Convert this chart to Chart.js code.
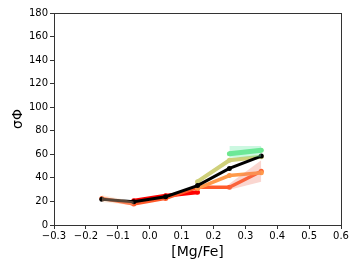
<!DOCTYPE html>
<html>
<head>
<meta charset="utf-8">
<script src="https://cdn.jsdelivr.net/npm/chart.js@4.4.1/dist/chart.umd.min.js"></script>
<style>
  body { margin: 0; background: #fff; }
  #wrap { width: 359px; height: 269px; }
</style>
</head>
<body>
<div id="wrap"><canvas id="sigmaChart" width="359" height="269"></canvas></div>
<script>
// -- DATA
const xAll = [-0.15, -0.05, 0.05, 0.15, 0.25, 0.35];
const blackVals = [21.8, 19.8, 24.0, 33.5, 48.0, 58.5];
const redX = [-0.05, 0.05, 0.15];
const redVals = [20.6, 24.8, 27.8];
const orangeRedVals = [22.6, 17.8, 22.6, 32.0, 32.0, 45.6];
const lightOrangeX = [0.15, 0.25, 0.35];
const lightOrangeVals = [31.0, 42.0, 44.4];
const khakiX = [0.15, 0.25, 0.35];
const khakiVals = [36.8, 55.0, 58.0];
const greenX = [0.25, 0.35];
const greenVals = [60.5, 63.5];
// shaded bands
const greenBandLow = [57.0, 58.0];
const greenBandHigh = [67.0, 67.0];
const pinkBandX = [0.25, 0.35];
const pinkBandLow = [30.0, 36.8];
const pinkBandHigh = [35.0, 55.0];
const peachBandX = [-0.15, -0.05];
const peachBandLow = [19.5, 16.5];
const peachBandHigh = [25.5, 20.0];

const xTicks = [-0.3, -0.2, -0.1, 0.0, 0.1, 0.2, 0.3, 0.4, 0.5, 0.6];
const yTicks = [0, 20, 40, 60, 80, 100, 120, 140, 160, 180];

function pts(xs, ys) {
    return xs.map((x, i) => ({ x: x, y: ys[i] }));
}

function line(label, xs, ys, color, width) {
    return {
        label: label,
        data: pts(xs, ys),
        borderColor: color,
        backgroundColor: color,
        borderWidth: width,
        pointRadius: 2.5,
        pointBorderWidth: 0,
        tension: 0,
        fill: false
    };
}

function band(xs, lo, hi, color) {
    return [
        { data: pts(xs, lo), borderWidth: 0, pointRadius: 0, fill: false, borderColor: "transparent" },
        { data: pts(xs, hi), borderWidth: 0, pointRadius: 0, fill: "-1", borderColor: "transparent", backgroundColor: color }
    ];
}

// frame around plot area (matplotlib style spines)
const framePlugin = {
    id: "frame",
    afterDraw(c) {
        const a = c.chartArea;
        const ctx = c.ctx;
        ctx.save();
        ctx.strokeStyle = "#333";
        ctx.lineWidth = 1;
        ctx.strokeRect(a.left + 0.5, a.top + 0.5, a.right - a.left, a.bottom - a.top);
        ctx.restore();
    }
};

const ctx = document.getElementById("sigmaChart").getContext("2d");
new Chart(ctx, {
    type: "line",
    data: {
        datasets: [
            ...band(peachBandX, peachBandLow, peachBandHigh, "rgba(255,200,160,0.35)"),
            ...band(greenX, greenBandLow, greenBandHigh, "rgba(110,235,170,0.35)"),
            ...band(pinkBandX, pinkBandLow, pinkBandHigh, "rgba(240,120,100,0.3)"),
            line("black", xAll, blackVals, "#000000", 3),
            line("khaki", khakiX, khakiVals, "#cfd07a", 4),
            line("lightorange", lightOrangeX, lightOrangeVals, "#ff9a4a", 3.5),
            line("orangered", xAll, orangeRedVals, "#ff5a2a", 3.5),
            line("red", redX, redVals, "#ff0000", 4),
            line("green", greenX, greenVals, "#6ee68e", 5)
        ]
    },
    options: {
        responsive: false,
        animation: false,
        layout: { padding: { top: 13, right: 18, left: 0, bottom: 0 } },
        plugins: { legend: { display: false }, tooltip: { enabled: false } },
        scales: {
            x: {
                type: "linear",
                min: -0.3,
                max: 0.6,
                afterFit: s => { s.height = 44; },
                afterBuildTicks: s => { s.ticks = xTicks.map(v => ({ value: v })); },
                grid: { drawOnChartArea: false, tickLength: 4, color: "#333" },
                border: { display: false },
                ticks: {
                    color: "#000",
                    padding: 1,
                    maxRotation: 0,
                    font: { family: "DejaVu Sans", size: 10 },
                    callback: v => v.toFixed(1).replace("-", "\u2212")
                },
                title: {
                    display: true,
                    text: "[Mg/Fe]",
                    color: "#000",
                    font: { family: "DejaVu Sans", size: 14 },
                    padding: { top: 0, bottom: 8 }
                }
            },
            y: {
                min: 0,
                max: 180,
                afterFit: s => { s.width = 54; },
                afterBuildTicks: s => { s.ticks = yTicks.map(v => ({ value: v })); },
                grid: { drawOnChartArea: false, tickLength: 4, color: "#333" },
                border: { display: false },
                ticks: {
                    color: "#000",
                    padding: 2,
                    font: { family: "DejaVu Sans", size: 10 }
                },
                title: {
                    display: true,
                    text: "\u03c3\u03a6",
                    color: "#000",
                    font: { family: "DejaVu Sans", size: 14 },
                    padding: { top: 10, bottom: 0 }
                }
            }
        }
    },
    plugins: [framePlugin]
});
</script>
</body>
</html>
